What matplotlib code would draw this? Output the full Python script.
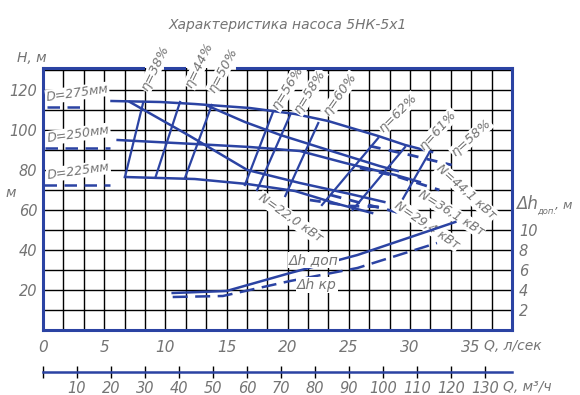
import numpy as np
import matplotlib.pyplot as plt
from matplotlib.ticker import FixedLocator

# Характеристика насоса 5НК-5х1 (Q в л/с, H в м)

# напорные кривые для трёх диаметров колеса
q_275 = [5.6, 9.6, 12.4, 16.9, 20.6, 23.3, 27.4, 29.6, 31.8]
h_275 = [114.5, 114, 113, 111, 108, 104.5, 97, 92.5, 89]
q_250 = [6.1, 12.4, 16.9, 21.0, 24.7, 28.8, 30.8]
h_250 = [95, 93, 91.5, 89.5, 83.5, 77.5, 74]
q_225 = [6.7, 12.4, 16.7, 20.6, 24.1, 26.9]
h_225 = [76.5, 75.5, 73, 69.5, 63, 58.5]

# пунктир в начале кривых
q_start_275 = [0.3, 3.0]
h_start_275 = [111.5, 111.5]
q_start_250 = [0.2, 5.5]
h_start_250 = [91, 91]
q_start_225 = [0.1, 5.5]
h_start_225 = [72.5, 72.5]

# ещё две падающие кривые
q_a = [13.5, 16.5, 19.4, 23.3, 27.5, 29.0]
h_a = [112, 104, 97.5, 90, 82, 79.5]
q_p = [7.1, 12.0, 16.7, 21.0, 25.1, 27.9]
h_p = [114, 97, 80, 73.5, 68, 64]

# линии равного кпд
eta_labels = ['η=38%', 'η=44%', 'η=50%', 'η=56%', 'η=58%', 'η=60%', 'η=62%', 'η=61%', 'η=58%']
eta_q_top = [8.2, 11.2, 13.8, 18.8, 20.2, 22.5, 27.4, 29.6, 31.6]
eta_h_top = [114, 114, 112.5, 109, 107.5, 103.5, 96, 91.5, 89]
eta_q_bot = [6.7, 9.2, 11.6, 16.5, 17.5, 19.8, 22.8, 25.3, 28.8]
eta_h_bot = [76.5, 76.5, 76, 72.5, 70, 67, 62.5, 60, 59]

# мощность (пунктир)
n_labels = ['N=44,1 кВт', 'N=36,1 кВт', 'N=29,4 кВт', 'N=22,0 кВт']
n_q = [[26.7, 30.0, 33.4], [25.9, 28.8, 32.4], [23.5, 26.3, 29.2], [21.8, 25.1, 28.0]]
n_h = [[92, 87.5, 82.5], [81, 77, 70], [67.5, 63, 58.5], [65, 62, 61.5]]

# допустимый и критический кавитационный запас, м
q_dh_dop = [10.6, 15.0, 20.2, 25.7, 33.7]
dh_dop = [3.7, 3.9, 5.7, 7.5, 10.8]
q_dh_kr = [10.6, 14.7, 20.2, 25.7, 32.2]
dh_kr = [3.3, 3.4, 4.9, 6.2, 8.7]

blue = '#2b43a3'
gray = '#747474'
ts = dict(color=gray, style='italic', fontsize=10)

fig = plt.figure(figsize=(5.8, 3.95), dpi=100)
ax = fig.add_axes([43 / 580, 65 / 395, 469 / 580, 262 / 395])
q_max = 23 * 5 / 3
h_max = 131
ax.set_xlim(0, q_max)
ax.set_ylim(0, h_max)

# сетка
ax.set_axisbelow(True)
ax.set_xticks(range(0, 36, 5))
ax.xaxis.set_minor_locator(FixedLocator(np.arange(0, 24) * 5 / 3))
ax.set_yticks(range(20, 121, 20))
ax.yaxis.set_minor_locator(FixedLocator(range(0, 131, 10)))
ax.grid(which='both', color='black', lw=1.0)
ax.tick_params(which='both', length=0)
ax.tick_params(axis='x', pad=7, labelcolor=gray, labelsize=11)
ax.tick_params(axis='y', pad=4, labelcolor=gray, labelsize=10.5)
for lab in ax.get_xticklabels() + ax.get_yticklabels():
    lab.set_style('italic')

for s in ['left', 'bottom', 'right']:
    ax.spines[s].set_color(blue)
    ax.spines[s].set_linewidth(2.2)
ax.spines['top'].set_visible(False)
for a, b in [(0, 8.2), (10.0, 11.5), (15.85, q_max)]:
    ax.plot([a, b], [h_max, h_max], color=blue, lw=2.2, clip_on=False, zorder=4)

lw = 1.8
ax.plot(q_275, h_275, color=blue, lw=lw)
ax.plot(q_250, h_250, color=blue, lw=lw)
ax.plot(q_225, h_225, color=blue, lw=lw)
ax.plot(q_start_275, h_start_275, color=blue, lw=lw, ls=(0, (5, 3)))
ax.plot(q_start_250, h_start_250, color=blue, lw=lw, ls=(0, (5, 3)))
ax.plot(q_start_225, h_start_225, color=blue, lw=lw, ls=(0, (5, 3)))
ax.plot(q_a, h_a, color=blue, lw=lw)
ax.plot(q_p, h_p, color=blue, lw=lw)

for i in range(len(eta_labels)):
    ax.plot([eta_q_top[i], eta_q_bot[i]], [eta_h_top[i], eta_h_bot[i]], color=blue, lw=1.6)

for i in range(len(n_q)):
    ax.plot(n_q[i], n_h[i], color=blue, lw=2.0, ls=(0, (4, 3)))

# подписи
bb = dict(fc='white', ec='none', pad=0.5)
d_pos = [(2.8, 118.5, 'D=275мм'), (2.9, 98, 'D=250мм'), (2.9, 79.5, 'D=225мм')]
for x, y, t in d_pos:
    ax.text(x, y, t, ha='center', va='center', rotation=8, bbox=bb, zorder=3,
            color=gray, style='italic', fontsize=9)

eta_pos = [(9.15, 131, 64), (12.8, 132.5, 64), (14.7, 130, 62), (20.0, 121, 58),
           (21.8, 119, 58), (24.3, 118, 55), (29.0, 108.5, 45), (32.3, 100, 48), (35.0, 96, 42)]
for (x, y, r), t in zip(eta_pos, eta_labels):
    ax.text(x, y, t, ha='center', va='center', rotation=r, bbox=bb, zorder=3,
            clip_on=False, color=gray, style='italic', fontsize=9.5)

n_pos = [(34.6, 69, -42), (33.4, 58.5, -32), (31.4, 52.5, -34), (20.2, 56, -35)]
for (x, y, r), t in zip(n_pos, n_labels):
    ax.text(x, y, t, ha='center', va='center', rotation=r, bbox=bb, zorder=3,
            clip_on=False, color=gray, style='italic', fontsize=9)

# кавитационный запас на правой шкале
ax2 = ax.twinx()
ax2.set_ylim(0, h_max / 5)
ax2.set_yticks([2, 4, 6, 8, 10])
ax2.tick_params(length=0, pad=5, labelcolor=gray, labelsize=10.5)
for lab in ax2.get_yticklabels():
    lab.set_style('italic')
for s in ax2.spines.values():
    s.set_visible(False)
ax2.plot(q_dh_dop, dh_dop, color=blue, lw=1.8)
ax2.plot(q_dh_kr, dh_kr, color=blue, lw=1.8, ls=(0, (6, 3)))
ax2.text(22.1, 7.0, 'Δh доп', ha='center', va='center', bbox=bb, **ts)
ax2.text(22.4, 4.5, 'Δh кр', ha='center', va='center', bbox=bb, **ts)

# вторая шкала подачи, м3/ч
sec = ax.secondary_xaxis(-0.16, functions=(lambda q: q * 3.6, lambda m: m / 3.6))
sec.set_xticks(range(0, 131, 10))
sec.set_xticklabels([''] + [str(v) for v in range(10, 131, 10)])
sec.spines['bottom'].set_color(blue)
sec.spines['bottom'].set_linewidth(1.8)
sec.tick_params(direction='inout', length=9, width=1, color='black', pad=2,
                labelcolor=gray, labelsize=10.5)
for lab in sec.get_xticklabels():
    lab.set_style('italic')

fig.text(288 / 580, 1 - 25 / 395, 'Характеристика насоса 5НК-5х1', ha='center', va='center', **ts)
fig.text(17 / 580, 1 - 58 / 395, 'H, м', ha='left', va='center', **ts)
fig.text(5 / 580, 1 - 193 / 395, 'м', ha='left', va='center', **ts)
fig.text(484 / 580, 1 - 346 / 395, 'Q, л/сек', ha='left', va='center', **ts)
fig.text(503 / 580, 1 - 387 / 395, 'Q, м³/ч', ha='left', va='center', **ts)
fig.text(516 / 580, 1 - 204 / 395, 'Δh', ha='left', va='center', color=gray, style='italic', fontsize=12)
fig.text(537 / 580, 1 - 211 / 395, 'доп.', ha='left', va='center', color=gray, style='italic', fontsize=6)
fig.text(555 / 580, 1 - 205 / 395, ', м', ha='left', va='center', color=gray, style='italic', fontsize=9)

fig.savefig('out.png', dpi=100)
